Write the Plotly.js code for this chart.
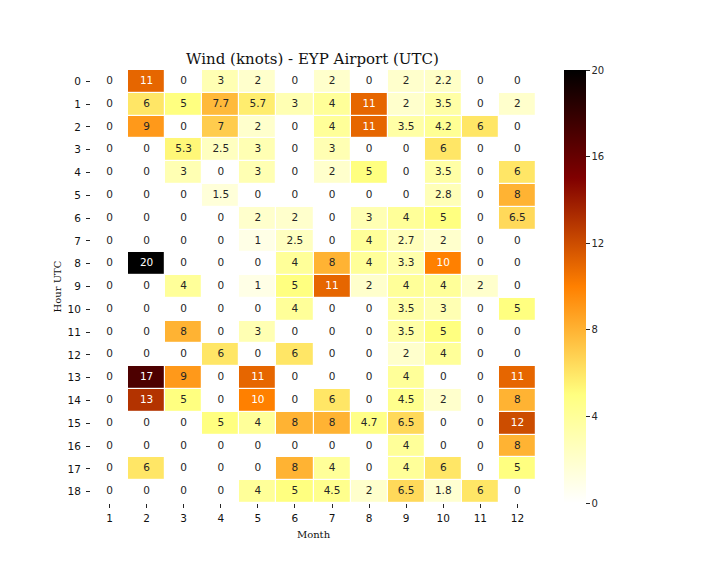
<!DOCTYPE html>
<html>
<head>
<meta charset="utf-8">
<script src="https://cdn.plot.ly/plotly-3.0.1.min.js"></script>
<style>body{margin:0;padding:0;background:#fff}#chart{width:720px;height:576px}</style>
</head>
<body>
<div id="chart"></div>
<script>
const months = [1,2,3,4,5,6,7,8,9,10,11,12];
const hours = [0,1,2,3,4,5,6,7,8,9,10,11,12,13,14,15,16,17,18];
const h00 = [0,11,0,3,2,0,2,0,2,2.2,0,0];
const h01 = [0,6,5,7.7,5.7,3,4,11,2,3.5,0,2];
const h02 = [0,9,0,7,2,0,4,11,3.5,4.2,6,0];
const h03 = [0,0,5.3,2.5,3,0,3,0,0,6,0,0];
const h04 = [0,0,3,0,3,0,2,5,0,3.5,0,6];
const h05 = [0,0,0,1.5,0,0,0,0,0,2.8,0,8];
const h06 = [0,0,0,0,2,2,0,3,4,5,0,6.5];
const h07 = [0,0,0,0,1,2.5,0,4,2.7,2,0,0];
const h08 = [0,20,0,0,0,4,8,4,3.3,10,0,0];
const h09 = [0,0,4,0,1,5,11,2,4,4,2,0];
const h10 = [0,0,0,0,0,4,0,0,3.5,3,0,5];
const h11 = [0,0,8,0,3,0,0,0,3.5,5,0,0];
const h12 = [0,0,0,6,0,6,0,0,2,4,0,0];
const h13 = [0,17,9,0,11,0,0,0,4,0,0,11];
const h14 = [0,13,5,0,10,0,6,0,4.5,2,0,8];
const h15 = [0,0,0,5,4,8,8,4.7,6.5,0,0,12];
const h16 = [0,0,0,0,0,0,0,0,4,0,0,8];
const h17 = [0,6,0,0,0,8,4,0,4,6,0,5];
const h18 = [0,0,0,0,4,5,4.5,2,6.5,1.8,6,0];
const z = [h00,h01,h02,h03,h04,h05,h06,h07,h08,h09,h10,h11,h12,h13,h14,h15,h16,h17,h18];
const zmin = 0, zmax = 20;
const colorTicks = [0,4,8,12,16,20];

// afmhot_r
const colorscale = [
  [0, 'rgb(255,255,255)'],
  [0.25, 'rgb(255,255,128)'],
  [0.5, 'rgb(255,128,0)'],
  [0.75, 'rgb(128,0,0)'],
  [1, 'rgb(0,0,0)']
];
function colorAt(v){
  const f = (v - zmin)/(zmax - zmin);
  const x = 1 - f;
  const c = t => Math.max(0, Math.min(1, t));
  return [c(2*x), c(2*x-0.5), c(2*x-1)];
}
function lum(rgb){
  const lin = u => u <= 0.03928 ? u/12.92 : Math.pow((u+0.055)/1.055, 2.4);
  return 0.2126*lin(rgb[0]) + 0.7152*lin(rgb[1]) + 0.0722*lin(rgb[2]);
}

const tx = [], ty = [], tt = [], tc = [];
hours.forEach((h, i) => {
  months.forEach((m, j) => {
    const v = z[i][j];
    tx.push(m); ty.push(h); tt.push(String(v));
    tc.push(lum(colorAt(v)) > 0.408 ? '#262626' : '#ffffff');
  });
});

const heat = {
  type: 'heatmap',
  x: months, y: hours, z: z,
  zmin: zmin, zmax: zmax,
  colorscale: colorscale,
  xgap: 1.2, ygap: 1.2,
  hoverinfo: 'skip',
  colorbar: {
    x: 1.0636, xanchor: 'left', xref: 'paper', xpad: 0, ypad: 0,
    y: 0.5, yanchor: 'middle', len: 1, lenmode: 'fraction',
    thickness: 22, thicknessmode: 'pixels',
    outlinewidth: 0,
    tickvals: colorTicks, ticktext: colorTicks.map(String),
    ticks: 'outside', ticklen: 4, tickwidth: 1, tickcolor: '#262626',
    tickfont: {family: 'DejaVu Sans', size: 10, color: '#262626'}
  }
};
const labels = {
  type: 'scatter', mode: 'text',
  x: tx, y: ty, text: tt,
  textfont: {family: 'DejaVu Sans', size: 10.5, color: tc},
  textposition: 'middle center',
  hoverinfo: 'skip', showlegend: false
};

const layout = {
  width: 720, height: 576,
  paper_bgcolor: '#ffffff', plot_bgcolor: '#ffffff',
  margin: {l: 90.5, r: 184.3, t: 69.5, b: 72.5, pad: 0},
  title: {text: 'Wind (knots) - EYP Airport (UTC)', x: 0.434, xanchor: 'center', y: 0.898, yanchor: 'middle',
          font: {family: 'DejaVu Serif', size: 15, color: '#111'}},
  xaxis: {
    range: [0.5, 12.5], tickvals: months, ticktext: months.map(String),
    ticks: 'outside', ticklen: 4, tickcolor: '#262626', showgrid: false, zeroline: false, showline: false,
    ticklabelstandoff: 1,
    tickfont: {family: 'DejaVu Sans', size: 10.5, color: '#111'},
    title: {text: 'Month', font: {family: 'DejaVu Serif', size: 10, color: '#111'}, standoff: 8}
  },
  yaxis: {
    range: [18.5, -0.5], tickvals: hours, ticktext: hours.map(String),
    ticks: 'outside', ticklen: 4, tickcolor: '#262626', showgrid: false, zeroline: false, showline: false,
    ticklabelstandoff: 3,
    tickfont: {family: 'DejaVu Sans', size: 10.5, color: '#111'},
    title: {text: 'Hour UTC', font: {family: 'DejaVu Serif', size: 10, color: '#111'}, standoff: 4}
  },
  showlegend: false
};
Plotly.newPlot('chart', [heat, labels], layout, {displayModeBar: false, staticPlot: true});
</script>
</body>
</html>
